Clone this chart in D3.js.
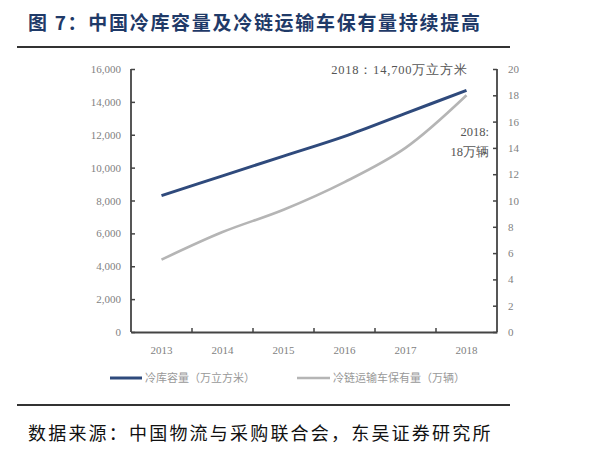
<!DOCTYPE html>
<html><head><meta charset="utf-8">
<script src="https://cdn.jsdelivr.net/npm/d3@7"></script>
<style>body{margin:0;background:#fff;} svg{display:block;}</style>
</head><body>
<svg id="c" width="600" height="458"></svg>
<script>
const years = ["2013","2014","2015","2016","2017","2018"];
const coldStorage = [8300, 9500, 10700, 11900, 13300, 14700];
const trucks = [5.5, 7.6, 9.3, 11.4, 14.0, 18.0];
const leftTicks = [0,2000,4000,6000,8000,10000,12000,14000,16000];
const rightTicks = [0,2,4,6,8,10,12,14,16,18,20];
const seriesNames = ["冷库容量（万立方米）","冷链运输车保有量（万辆）"];
const title = "图 7：中国冷库容量及冷链运输车保有量持续提高";
const source = "数据来源：中国物流与采购联合会，东吴证券研究所";

const svg = d3.select("#c");
const L = 131, R = 497, T = 69, B = 332;
const serif = "'Liberation Serif','DejaVu Serif',serif";
const cjk = "'Noto Sans CJK SC','Noto Sans',sans-serif";
const axisCol = "#444";
const labelCol = "#7f7f7f";

// title
svg.append("text").attr("x",28).attr("y",30).attr("font-family",cjk).attr("font-weight",700)
  .attr("font-size",19).attr("fill","#1f3a68").attr("letter-spacing",1.7).text(title);
svg.append("line").attr("x1",17).attr("x2",510).attr("y1",47).attr("y2",47).attr("stroke","#333").attr("stroke-width",2.2);
svg.append("line").attr("x1",17).attr("x2",510).attr("y1",405).attr("y2",405).attr("stroke","#333").attr("stroke-width",2.2);
svg.append("text").attr("x",28).attr("y",440).attr("font-family",cjk).attr("font-size",18)
  .attr("fill","#111").attr("letter-spacing",2.2).text(source);

const x = d3.scaleBand().domain(years).range([L,R]);
const yL = d3.scaleLinear().domain([0,16000]).range([B,T]);
const yR = d3.scaleLinear().domain([0,20]).range([B,T]);

// axes
const gl = svg.append("g").attr("transform",`translate(${L},0)`)
  .call(d3.axisLeft(yL).tickValues(leftTicks).tickSize(-4).tickPadding(10).tickFormat(d3.format(",")));
const gr = svg.append("g").attr("transform",`translate(${R},0)`)
  .call(d3.axisRight(yR).tickValues(rightTicks).tickSize(-4).tickPadding(11));
const gx = svg.append("g").attr("transform",`translate(0,${B})`)
  .call(d3.axisBottom(x).tickSize(0).tickPadding(14));
// x boundary ticks
svg.append("g").selectAll("line").data(years.slice(1)).join("line")
  .attr("x1",d=>x(d)).attr("x2",d=>x(d)).attr("y1",B).attr("y2",B-4)
  .attr("stroke",axisCol).attr("stroke-width",1.5);
[gl,gr,gx].forEach(g=>{
  g.select(".domain").attr("stroke",axisCol).attr("stroke-width",1.8);
  g.selectAll(".tick line").attr("stroke",axisCol).attr("stroke-width",1.5);
  g.selectAll(".tick text").attr("font-family",serif).attr("font-size",11).attr("fill",labelCol);
});
gl.select(".domain").attr("d",`M0,${T}V${B}`);
gr.select(".domain").attr("d",`M0,${T}V${B}`);

const cx = d => x(d) + x.bandwidth()/2;
const lineL = d3.line().x((d,i)=>cx(years[i])).y(d=>yL(d)).curve(d3.curveCatmullRom.alpha(0.5));
const lineR = d3.line().x((d,i)=>cx(years[i])).y(d=>yR(d)).curve(d3.curveCatmullRom.alpha(0.5));
svg.append("path").attr("d",lineR(trucks)).attr("fill","none").attr("stroke","#b5b5b5").attr("stroke-width",2.6);
svg.append("path").attr("d",lineL(coldStorage)).attr("fill","none").attr("stroke","#2f4a7c").attr("stroke-width",3);

// annotations
svg.append("text").attr("x",cx("2018")+1).attr("y",yL(coldStorage[5])-16).attr("text-anchor","end")
  .attr("font-family",serif).attr("font-size",12.5).attr("letter-spacing",0.8).attr("fill","#555").text("2018：14,700万立方米");
svg.append("text").attr("x",489).attr("y",136).attr("text-anchor","end")
  .attr("font-family",serif).attr("font-size",12.5).attr("fill","#555").text("2018:");
svg.append("text").attr("x",489).attr("y",156).attr("text-anchor","end")
  .attr("font-family",serif).attr("font-size",12.5).attr("fill","#555").text("18万辆");

// legend
const lg = svg.append("g");
lg.append("line").attr("x1",110).attr("x2",142).attr("y1",378).attr("y2",378).attr("stroke","#2f4a7c").attr("stroke-width",3);
lg.append("text").attr("x",145).attr("y",382).attr("font-family",cjk).attr("font-size",11).attr("fill","#999").text(seriesNames[0]);
lg.append("line").attr("x1",297).attr("x2",330).attr("y1",378).attr("y2",378).attr("stroke","#b5b5b5").attr("stroke-width",2.6);
lg.append("text").attr("x",333).attr("y",382).attr("font-family",cjk).attr("font-size",11).attr("fill","#999").text(seriesNames[1]);
</script>
</body></html>
